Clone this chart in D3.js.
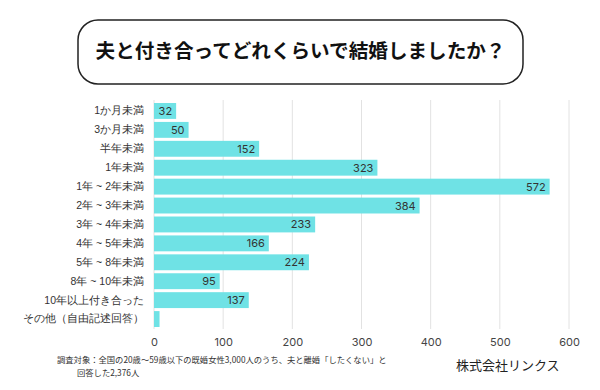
<!DOCTYPE html>
<html><head><meta charset="utf-8">
<script src="https://cdn.jsdelivr.net/npm/d3@7"></script>
<style>body{margin:0;background:#fff;}svg{display:block;font-family:"Noto Sans CJK JP","Noto Sans",sans-serif;}</style>
</head><body><svg id="c" width="600" height="390"></svg>
<script>
const categories = ["1か月未満","3か月未満","半年未満","1年未満","1年 ~ 2年未満","2年 ~ 3年未満","3年 ~ 4年未満","4年 ~ 5年未満","5年 ~ 8年未満","8年 ~ 10年未満","10年以上付き合った","その他（自由記述回答）"];
const values = [32,50,152,323,572,384,233,166,224,95,137,8];
const showLabel = [true,true,true,true,true,true,true,true,true,true,true,false];
const ticks = [0,100,200,300,400,500,600];
const title = "夫と付き合ってどれくらいで結婚しましたか？";
const note1 = "調査対象：全国の20歳〜59歳以下の既婚女性3,000人のうち、夫と離婚「したくない」と";
const note2 = "回答した2,376人";
const company = "株式会社リンクス";

const svg = d3.select("#c");
svg.append("rect").attr("x",78).attr("y",20).attr("width",445).attr("height",64).attr("rx",20)
  .attr("fill","#fff").attr("stroke","#222").attr("stroke-width",1.5);
svg.append("text").attr("x",300.5).attr("y",58).attr("text-anchor","middle")
  .attr("font-size",19.6).attr("font-weight",700).attr("fill","#111").text(title);

const x = d3.scaleLinear().domain([0,600]).range([154,569]);
const y = d3.scaleBand().domain(categories).range([101.5,328.5]).paddingInner(0.16).paddingOuter(0.08);

const g = svg.append("g");
g.selectAll("line.grid").data(ticks).join("line").attr("class","grid")
  .attr("x1",d=>x(d)).attr("x2",d=>x(d)).attr("y1",100).attr("y2",329)
  .attr("stroke","#e2e2e2").attr("stroke-width",1);

const axis = d3.axisBottom(x).tickValues(ticks).tickSize(0).tickPadding(0);
const ag = svg.append("g").attr("transform","translate(0,342)").call(axis);
ag.select(".domain").remove();
ag.selectAll("text").attr("font-size",11).attr("fill","#444").attr("dy","0.35em").attr("font-family","Inter, sans-serif");

g.selectAll("rect.bar").data(values).join("rect").attr("class","bar")
  .attr("x",x(0)).attr("y",(d,i)=>y(categories[i])).attr("width",d=>x(d)-x(0)).attr("height",y.bandwidth())
  .attr("fill","#6fe2e5");

g.selectAll("text.val").data(values).join("text").attr("class","val")
  .filter((d,i)=>showLabel[i])
  .attr("x",d=>x(d)-4).attr("y",(d,i)=>y(categories[i])+y.bandwidth()/2).attr("dy","0.36em")
  .attr("text-anchor","end").attr("font-size",11).attr("fill","#333").attr("font-family","Inter, sans-serif").text(d=>d);

const ya = d3.axisLeft(y).tickSize(0).tickPadding(0);
const yg = svg.append("g").attr("transform","translate(144,0)").call(ya);
yg.select(".domain").remove();
yg.selectAll("text").attr("font-size",10.5).attr("fill","#333");

svg.append("text").attr("x",57).attr("y",363).attr("font-size",8.3).attr("fill","#333").text(note1);
svg.append("text").attr("x",77).attr("y",376).attr("font-size",8.3).attr("fill","#333").text(note2);
svg.append("text").attr("x",456).attr("y",370).attr("font-size",13).attr("fill","#222").text(company);
</script></body></html>
